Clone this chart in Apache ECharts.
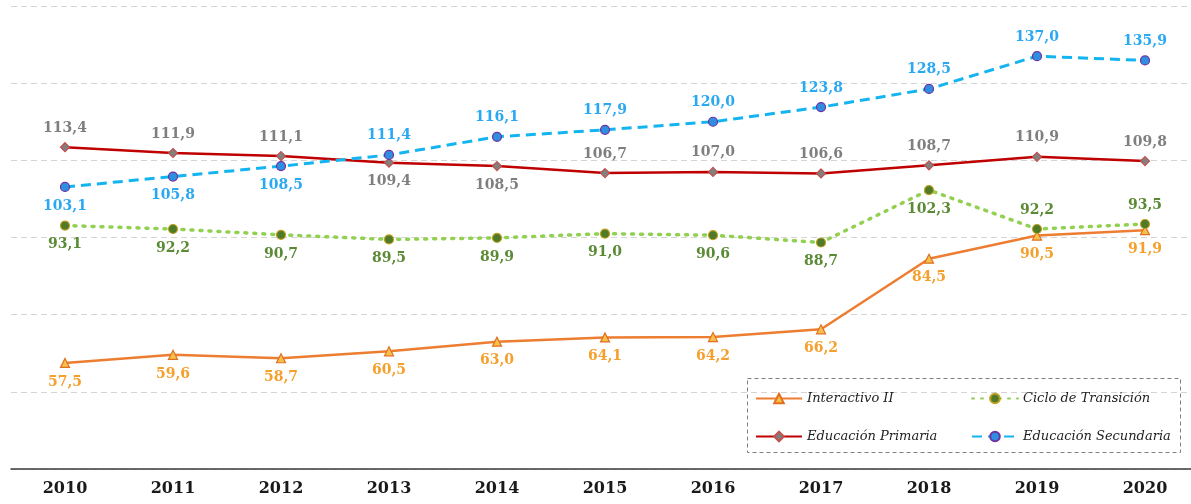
<!DOCTYPE html>
<html>
<head>
<meta charset="utf-8">
<script src="https://cdn.jsdelivr.net/npm/echarts@6/dist/echarts.min.js"></script>
<style>
  html, body { margin: 0; padding: 0; background: #fff; }
  #chart { width: 1191px; height: 504px; }
</style>
</head>
<body>
<div id="chart"></div>
<script>
const years = ['2010', '2011', '2012', '2013', '2014', '2015', '2016', '2017', '2018', '2019', '2020']
const interactivo = [57.5, 59.6, 58.7, 60.5, 63.0, 64.1, 64.2, 66.2, 84.5, 90.5, 91.9]
const ciclo = [93.1, 92.2, 90.7, 89.5, 89.9, 91.0, 90.6, 88.7, 102.3, 92.2, 93.5]
const primaria = [113.4, 111.9, 111.1, 109.4, 108.5, 106.7, 107.0, 106.6, 108.7, 110.9, 109.8]
const secundaria = [103.1, 105.8, 108.5, 111.4, 116.1, 117.9, 120.0, 123.8, 128.5, 137.0, 135.9]

// which points get their label under the marker
const below = {
  interactivo: [0, 1, 2, 3, 4, 5, 6, 7, 8, 9, 10],
  ciclo: [0, 1, 2, 3, 4, 5, 6, 7, 8],
  primaria: [3, 4],
  secundaria: [0, 1, 2],
}

const FONT = 'DejaVu Serif'
const fmt = v => v.toFixed(1).replace('.', ',')

function withLabels(values, belowIdx) {
  return values.map((v, i) => ({
    value: v,
    label: { position: belowIdx.includes(i) ? 'bottom' : 'top' },
  }))
}

function lineSeries(name, values, belowIdx, opts) {
  return {
    name,
    type: 'line',
    data: withLabels(values, belowIdx),
    symbol: opts.symbol,
    symbolSize: opts.symbolSize,
    lineStyle: Object.assign({ color: opts.color, width: 2.5 }, opts.lineStyle || {}),
    itemStyle: { color: opts.fill, borderColor: opts.border, borderWidth: 1.2 },
    label: {
      show: true,
      distance: 7,
      color: opts.labelColor,
      fontFamily: FONT,
      fontWeight: 'bold',
      fontSize: 14,
      formatter: p => fmt(p.value),
    },
    z: opts.z || 2,
  }
}

const chart = echarts.init(document.getElementById('chart'))

const legendText = { fontFamily: FONT, fontStyle: 'italic', fontSize: 13, color: '#222' }

chart.setOption({
  animation: false,
  grid: { left: 11, width: 1188, top: 6, bottom: 35, outerBoundsMode: 'none', containLabel: false },
  xAxis: {
    type: 'category',
    data: years,
    boundaryGap: true,
    axisLine: { lineStyle: { color: '#3a3a3a', width: 1.5 } },
    axisTick: { alignWithLabel: true, length: 5, lineStyle: { color: '#3a3a3a', width: 1.2 } },
    axisLabel: { color: '#1a1a1a', fontFamily: FONT, fontWeight: 'bold', fontSize: 16, margin: 12 },
  },
  yAxis: {
    type: 'value',
    min: 30,
    max: 150,
    interval: 20,
    axisLine: { show: false },
    axisTick: { show: false },
    axisLabel: { show: false },
    splitLine: { lineStyle: { color: '#d4d4d4', type: [6, 4], width: 1 } },
  },
  legend: [
    {
      data: ['Interactivo II', 'Educación Primaria'],
      orient: 'vertical',
      left: 750,
      top: 387,
      itemWidth: 46,
      itemHeight: 12,
      itemGap: 25,
      textStyle: legendText,
    },
    {
      data: ['Ciclo de Transición', 'Educación Secundaria'],
      orient: 'vertical',
      left: 966,
      top: 387,
      itemWidth: 46,
      itemHeight: 12,
      itemGap: 25,
      textStyle: legendText,
    },
  ],
  graphic: [{
    type: 'rect',
    left: 745,
    top: 376,
    shape: { width: 433, height: 74 },
    style: { fill: 'none', stroke: '#7f7f7f', lineWidth: 1, lineDash: [4, 3] },
    silent: true,
  }],
  series: [
    lineSeries('Interactivo II', interactivo, below.interactivo, {
      color: '#ed7d31', fill: '#f7c04a', border: '#e07020',
      symbol: 'triangle', symbolSize: 9, labelColor: '#f5a02c', z: 2,
    }),
    lineSeries('Ciclo de Transición', ciclo, below.ciclo, {
      color: '#92d050', fill: '#4f7a28', border: '#c0a020',
      symbol: 'circle', symbolSize: 9, labelColor: '#5b8a35', z: 3,
      lineStyle: { type: [2, 7], cap: 'round', width: 3.5 },
    }),
    lineSeries('Educación Primaria', primaria, below.primaria, {
      color: '#c00000', fill: '#808080', border: '#c0504d',
      symbol: 'diamond', symbolSize: 9, labelColor: '#7f7f7f', z: 4,
    }),
    lineSeries('Educación Secundaria', secundaria, below.secundaria, {
      color: '#14b4f0', fill: '#2e8fe0', border: '#7030a0',
      symbol: 'circle', symbolSize: 9, labelColor: '#2aa8f2', z: 5,
      lineStyle: { type: [10, 6], width: 3 },
    }),
  ],
})
</script>
</body>
</html>
